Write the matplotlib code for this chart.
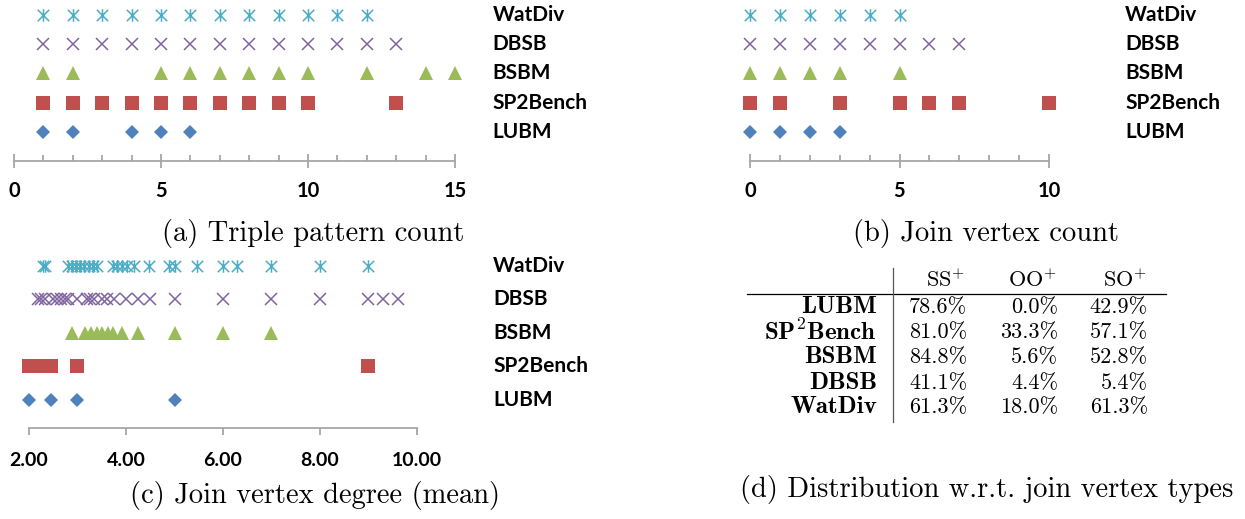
import matplotlib.pyplot as plt
from matplotlib.path import Path
from matplotlib.lines import Line2D

W, H = 1245, 519
plt.rcParams['font.family'] = ['Lato', 'DejaVu Sans']
plt.rcParams['mathtext.fontset'] = 'cm'

# row order bottom -> top
benchmarks = ['LUBM', 'SP2Bench', 'BSBM', 'DBSB', 'WatDiv']
colors = ['#4F81BD', '#C0504D', '#9BBB59', '#8064A2', '#4BACC6']

# (a) triple pattern count
tp_lubm = [1, 2, 4, 5, 6]
tp_sp2b = [1, 2, 3, 4, 5, 6, 7, 8, 9, 10, 13]
tp_bsbm = [1, 2, 5, 6, 7, 8, 9, 10, 12, 14, 15]
tp_dbsb = [1, 2, 3, 4, 5, 6, 7, 8, 9, 10, 11, 12, 13]
tp_watdiv = [1, 2, 3, 4, 5, 6, 7, 8, 9, 10, 11, 12]

# (b) join vertex count
jv_lubm = [0, 1, 2, 3]
jv_sp2b = [0, 1, 3, 5, 6, 7, 10]
jv_bsbm = [0, 1, 2, 3, 5]
jv_dbsb = [0, 1, 2, 3, 4, 5, 6, 7]
jv_watdiv = [0, 1, 2, 3, 4, 5]

# (c) join vertex degree (mean)
deg_lubm = [2.0, 2.45, 3.0, 5.0]
deg_sp2b = [2.0, 2.12, 2.24, 2.33, 2.45, 3.0, 9.0]
deg_bsbm = [2.88, 3.15, 3.28, 3.4, 3.5, 3.63, 3.73, 3.91, 4.25, 5.0, 6.0, 7.0]
deg_dbsb = [2.19, 2.25, 2.33, 2.5, 2.57, 2.67, 2.75, 2.8, 3.0, 3.2, 3.25, 3.33,
            3.5, 3.6, 3.75, 4.0, 4.25, 4.5, 5.0, 6.0, 7.0, 8.0, 9.0, 9.29, 9.6]
deg_watdiv = [2.28, 2.34, 2.8, 2.89, 2.97, 3.05, 3.13, 3.24, 3.32, 3.41,
              3.73, 3.81, 3.92, 4.02, 4.16, 4.47, 4.89, 5.0, 5.46, 6.0, 6.29,
              7.0, 8.0, 9.0]

ticks_a = [0, 5, 10, 15]
ticks_b = [0, 5, 10]
ticks_c = [2, 4, 6, 8, 10]

# (d) distribution w.r.t. join vertex types
table_cols = [r'SS$^{+}$', r'OO$^{+}$', r'SO$^{+}$']
table_rows = ['LUBM', r'SP$^{\mathbf{2}}$Bench', 'BSBM', 'DBSB', 'WatDiv']
ss_plus = ['78.6%', '81.0%', '84.8%', '41.1%', '61.3%']
oo_plus = ['0.0%', '33.3%', '5.6%', '4.4%', '18.0%']
so_plus = ['42.9%', '57.1%', '52.8%', '5.4%', '61.3%']

star = Path([(-1, -1), (1, 1), (-1, 1), (1, -1), (0, -1.1), (0, 1.1)],
            [Path.MOVETO, Path.LINETO] * 3)
markers = [('D', 6.8), ('s', 9.4), ('^', 9.6), ('x', 8.8), (star, 9.0)]

fig = plt.figure(figsize=(W / 100, H / 100), dpi=100)


def px_axes(left, right, top, bottom):
    return fig.add_axes([left / W, 1 - bottom / H, (right - left) / W, (bottom - top) / H])


def strip_plot(ax, series, xlim, ylim, label_x):
    for i, vals in enumerate(series):
        m, ms = markers[i]
        if m in ('x',) or m is star:
            ax.plot(vals, [i + 1] * len(vals), linestyle='none', marker=m, ms=ms,
                    mec=colors[i], mfc='none', mew=1.1, clip_on=False)
        else:
            ax.plot(vals, [i + 1] * len(vals), linestyle='none', marker=m, ms=ms,
                    mfc=colors[i], mew=0, clip_on=False)
        ax.text(label_x, i + 1, benchmarks[i], ha='left', va='center',
                fontsize=15, fontweight='bold', clip_on=False)
    ax.set_xlim(*xlim)
    ax.set_ylim(*ylim)
    ax.set_yticks([])
    for s in ['top', 'left', 'right']:
        ax.spines[s].set_visible(False)
    ax.spines['bottom'].set_color('#A6A6A6')
    ax.spines['bottom'].set_linewidth(1.3)
    ax.patch.set_alpha(0)


# (a)
ax_a = px_axes(14, 455, 15, 161)
strip_plot(ax_a, [tp_lubm, tp_sp2b, tp_bsbm, tp_dbsb, tp_watdiv], (0, 15), (0, 5), 16.28)
ax_a.set_xticks(ticks_a)
ax_a.set_xticks(range(0, 16), minor=True)
ax_a.tick_params(axis='x', which='major', direction='inout', length=9.5, width=1.3,
                 color='#A6A6A6', labelsize=14.5, pad=10)
ax_a.tick_params(axis='x', which='minor', direction='in', length=4.5, width=1.3,
                 color='#A6A6A6')

# (b)
ax_b = px_axes(750, 1049, 15, 161)
strip_plot(ax_b, [jv_lubm, jv_sp2b, jv_bsbm, jv_dbsb, jv_watdiv], (0, 10), (0, 5), 12.55)
ax_b.set_xticks(ticks_b)
ax_b.set_xticks(range(0, 11), minor=True)
ax_b.tick_params(axis='x', which='major', direction='inout', length=9.5, width=1.3,
                 color='#A6A6A6', labelsize=14.5, pad=10)
ax_b.tick_params(axis='x', which='minor', direction='in', length=4.5, width=1.3,
                 color='#A6A6A6')

# (c)
ax_c = px_axes(29, 417, 266, 428)
strip_plot(ax_c, [deg_lubm, deg_sp2b, deg_bsbm, deg_dbsb, deg_watdiv], (2, 10), (0.164, 5), 11.57)
ax_c.set_xticks(ticks_c)
ax_c.set_xticklabels([f'{t:.2f}' for t in ticks_c])
ax_c.tick_params(axis='x', which='major', direction='out', length=5, width=1.3,
                 color='#A6A6A6', labelsize=14, pad=12)

for ax in (ax_a, ax_b, ax_c):
    for lab in ax.get_xticklabels():
        lab.set_fontweight('bold')


def ftext(x, y, s, **kw):
    fig.text(x / W, 1 - y / H, s, **kw)


cap = dict(fontsize=20.5, family='cmr10', ha='center', va='center')
ftext(313, 234, '(a) Triple pattern count', **cap)
ftext(986, 234, '(b) Join vertex count', **cap)
ftext(315, 495, '(c) Join vertex degree (mean)', **cap)
ftext(987, 489, '(d) Distribution w.r.t. join vertex types', **cap)

# table (d)
cell = dict(fontsize=16, family='cmr10', ha='right', va='center')
col_x = [965, 1057, 1147]
val_x = [967, 1058, 1148]
row_y = [307, 332, 357, 383, 407]
for cx, c in zip(col_x, table_cols):
    ftext(cx, 280, c, **cell)
for j, (r, y) in enumerate(zip(table_rows, row_y)):
    ftext(877, y, r, fontsize=18, family='cmb10', ha='right', va='center')
    for vx, col in zip(val_x, [ss_plus, oo_plus, so_plus]):
        ftext(vx, y, col[j], **cell)

fig.add_artist(Line2D([747 / W, 1166 / W], [1 - 294 / H] * 2, color='black', lw=0.9))
fig.add_artist(Line2D([893 / W, 893 / W], [1 - 268 / H, 1 - 422 / H], color='#555555', lw=0.9))

fig.savefig('out.png', dpi=100)
